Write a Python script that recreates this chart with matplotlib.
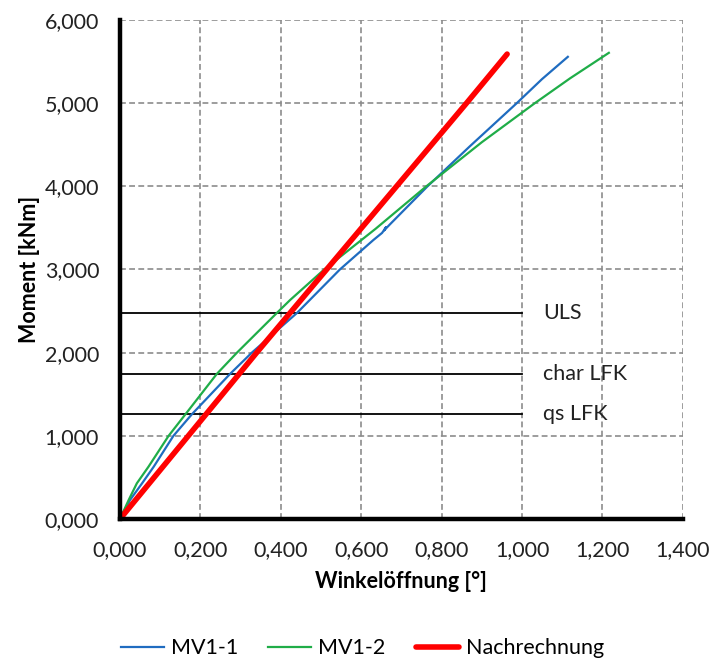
import matplotlib
matplotlib.use("Agg")
import matplotlib.pyplot as plt

plt.rcParams['font.family'] = ['Lato', 'DejaVu Sans']

# MV1-1 (Messung)
mv11_x = [0.0, 0.025, 0.055, 0.084, 0.133, 0.179, 0.274, 0.328, 0.44, 0.547,
          0.63, 0.652, 0.662, 0.657, 0.672, 0.765, 0.87, 0.987, 1.05, 1.114]
mv11_y = [0, 228, 429, 629, 1000, 1260, 1745, 2000, 2476, 3000,
          3353, 3440, 3510, 3470, 3545, 4000, 4480, 5000, 5290, 5557]

# MV1-2 (Messung)
mv12_x = [0.0, 0.0216, 0.042, 0.071, 0.121, 0.163, 0.241, 0.291, 0.39, 0.423,
          0.508, 0.636, 0.762, 0.90, 1.032, 1.12, 1.216]
mv12_y = [0, 228, 429, 629, 1000, 1260, 1745, 2000, 2476, 2632,
          3000, 3490, 4000, 4530, 5000, 5300, 5605]

# Nachrechnung
nach_x = [0.0, 0.17, 0.34, 0.514, 0.688, 0.862, 0.963]
nach_y = [0, 1000, 2000, 3000, 4000, 5000, 5590]

# Grenzlinien
grenz_namen = ['ULS', 'char LFK', 'qs LFK']
grenz_werte = [2476, 1745, 1262]

x_ticks = [0.0, 0.2, 0.4, 0.6, 0.8, 1.0, 1.2, 1.4]
x_labels = ['0,000', '0,200', '0,400', '0,600', '0,800', '1,000', '1,200', '1,400']
y_ticks = [0, 1000, 2000, 3000, 4000, 5000, 6000]
y_labels = ['0,000', '1,000', '2,000', '3,000', '4,000', '5,000', '6,000']

fs = 15.5

fig = plt.figure(figsize=(7.12, 6.64), dpi=100)
ax = fig.add_axes([0.1685, 0.2184, 0.7905, 0.7515])

for name, val in zip(grenz_namen, grenz_werte):
    ax.plot([0, 1.0], [val, val], color='black', lw=1.3, zorder=2)
    ax.text(1.052, val, name, fontsize=fs, va='center', ha='left', color='#222222')

ax.plot(mv11_x, mv11_y, color='#1f6cc0', lw=1.6, label='MV1-1', zorder=3)
ax.plot(mv12_x, mv12_y, color='#1fad48', lw=1.6, label='MV1-2', zorder=3)
ax.plot(nach_x, nach_y, color='#ff0000', lw=4.0, label='Nachrechnung',
        solid_capstyle='round', zorder=4)

ax.set_xlim(0, 1.4)
ax.set_ylim(0, 6000)
ax.set_xticks(x_ticks)
ax.set_xticklabels(x_labels)
ax.set_yticks(y_ticks)
ax.set_yticklabels(y_labels)
ax.tick_params(length=0, labelsize=fs, colors='#222222')
ax.tick_params(axis='y', pad=15)
ax.tick_params(axis='x', pad=15)

ax.grid(True, color='#8c8c8c', ls=(0, (3.5, 2)), lw=1.2)
for s in ['top', 'right']:
    ax.spines[s].set_visible(False)
for s in ['left', 'bottom']:
    ax.spines[s].set_linewidth(3.2)
    ax.spines[s].set_zorder(5)

ax.set_xlabel('Winkelöffnung [°]', fontsize=fs, fontweight='bold', labelpad=8)
ax.set_ylabel('Moment [kNm]', fontsize=fs, fontweight='bold', labelpad=3)

fig.legend(loc='center', bbox_to_anchor=(0.509, 0.024), ncol=3, frameon=False,
           fontsize=fs, handlelength=2.0, columnspacing=1.4, handletextpad=0.33)

fig.savefig('out.png', dpi=100)
